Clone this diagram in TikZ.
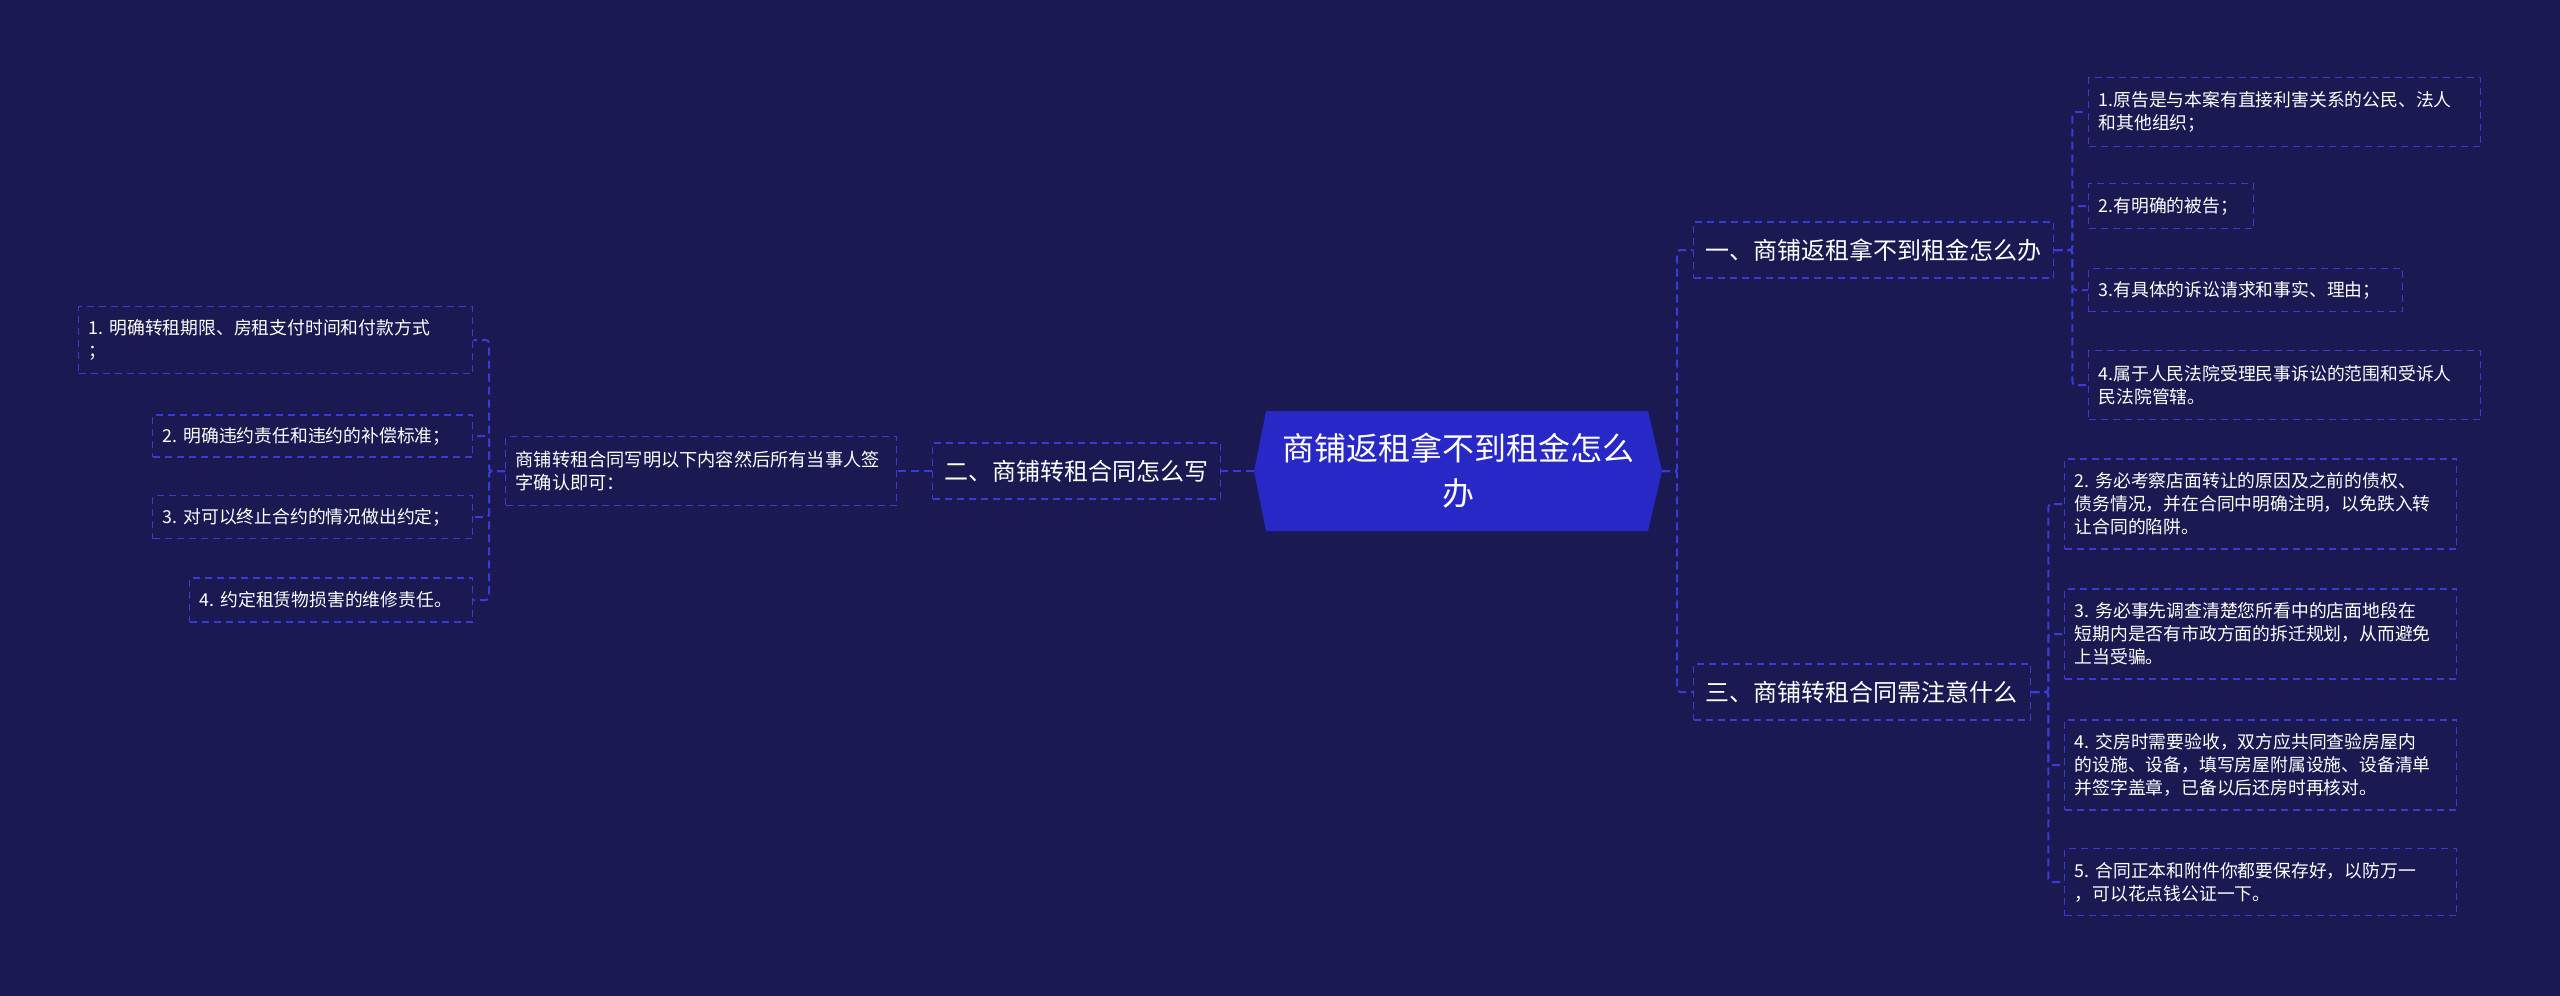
\documentclass[tikz,border=0pt]{standalone}
\usepackage{fontspec}
\setmainfont{Noto Sans CJK SC}
\definecolor{fondo}{HTML}{1A1952}
\definecolor{azullinea}{HTML}{3A3AD6}
\definecolor{azulraiz}{HTML}{2828C6}

\begin{document}
\begin{tikzpicture}[x=1pt,y=-1pt]
  % Estilos
  \tikzset{
    conector/.style={azullinea, line width=2pt, dash pattern=on 8pt off 5pt, rounded corners=3pt},
    caja/.style={draw=azullinea, line width=1.4pt, dash pattern=on 7pt off 5pt, text=white, anchor=west, align=left, inner xsep=10pt, inner ysep=0pt},
    rama/.style={caja, font=\fontsize{24}{30}\selectfont, inner xsep=12pt, minimum height=56pt},
    hoja/.style={caja, font=\fontsize{17.8}{23}\selectfont},
    nodo_raiz/.style={text=white, font=\fontsize{32}{45}\selectfont, align=center, minimum width=408pt, minimum height=120pt, inner sep=0pt}
  }

  % Fondo
  \fill[fondo] (0,0) rectangle (2560,996);

  % Nodo central
  \fill[azulraiz] (1254,471) -- (1266,411) -- (1648,411) -- (1662,471) -- (1648,531) -- (1266,531) -- cycle;
  \node[nodo_raiz] (raiz) at (1458,471) {商铺返租拿不到租金怎么\\办};

  % Ramas
  \node[rama, text width=336pt] (rama1) at (1693,250) {一、商铺返租拿不到租金怎么办};
  \node[rama, text width=313pt] (rama3) at (1693,692) {三、商铺转租合同需注意什么};
  \node[rama, text width=264pt] (rama2) at (932,471) {二、商铺转租合同怎么写};
  \node[hoja, font=\fontsize{18.2}{23}\selectfont, text width=371pt, minimum height=69pt] (sub) at (505,471) {商铺转租合同写明以下内容然后所有当事人签\\字确认即可：};

  % Hojas izquierda
  \node[hoja, text width=374pt, minimum height=67pt] (l1) at (78,340) {1.~明确转租期限、房租支付时间和付款方式\\；};
  \node[hoja, text width=300pt, minimum height=42pt] (l2) at (152,436) {2.~明确违约责任和违约的补偿标准；};
  \node[hoja, text width=300pt, minimum height=43pt] (l3) at (152,517) {3.~对可以终止合约的情况做出约定；};
  \node[hoja, text width=263pt, minimum height=44pt] (l4) at (189,600) {4.~约定租赁物损害的维修责任。};

  % Hojas derecha arriba
  \node[hoja, text width=372pt, minimum height=69pt] (r1) at (2088,112) {1.原告是与本案有直接利害关系的公民、法人\\和其他组织；};
  \node[hoja, text width=145pt, minimum height=45pt] (r2) at (2088,206) {2.有明确的被告；};
  \node[hoja, text width=294pt, minimum height=43pt] (r3) at (2088,290) {3.有具体的诉讼请求和事实、理由；};
  \node[hoja, text width=372pt, minimum height=69pt] (r4) at (2088,385) {4.属于人民法院受理民事诉讼的范围和受诉人\\民法院管辖。};

  % Hojas derecha abajo
  \node[hoja, text width=372pt, minimum height=90pt] (s2) at (2064,504) {2.~务必考察店面转让的原因及之前的债权、\\债务情况，并在合同中明确注明，以免跌入转\\让合同的陷阱。};
  \node[hoja, text width=372pt, minimum height=90pt] (s3) at (2064,634) {3.~务必事先调查清楚您所看中的店面地段在\\短期内是否有市政方面的拆迁规划，从而避免\\上当受骗。};
  \node[hoja, text width=372pt, minimum height=90pt] (s4) at (2064,765) {4.~交房时需要验收，双方应共同查验房屋内\\的设施、设备，填写房屋附属设施、设备清单\\并签字盖章，已备以后还房时再核对。};
  \node[hoja, text width=372pt, minimum height=67pt] (s5) at (2064,882) {5.~合同正本和附件你都要保存好，以防万一\\，可以花点钱公证一下。};

  % Conectores del nodo central
  \draw[conector] (raiz.east) -- ++(15,0) |- (rama1.west);
  \draw[conector] (raiz.east) -- ++(15,0) |- (rama3.west);
  \draw[conector] (raiz.west) -- (rama2.east);
  \draw[conector] (rama2.west) -- (sub.east);

  % Conectores izquierda
  \draw[conector] (sub.west) -- ++(-16,0) |- (l1.east);
  \draw[conector] (sub.west) -- ++(-16,0) |- (l2.east);
  \draw[conector] (sub.west) -- ++(-16,0) |- (l3.east);
  \draw[conector] (sub.west) -- ++(-16,0) |- (l4.east);

  % Conectores derecha
  \draw[conector] (rama1.east) -- ++(18,0) |- (r1.west);
  \draw[conector] (rama1.east) -- ++(18,0) |- (r2.west);
  \draw[conector] (rama1.east) -- ++(18,0) |- (r3.west);
  \draw[conector] (rama1.east) -- ++(18,0) |- (r4.west);
  \draw[conector] (rama3.east) -- ++(17,0) |- (s2.west);
  \draw[conector] (rama3.east) -- ++(17,0) |- (s3.west);
  \draw[conector] (rama3.east) -- ++(17,0) |- (s4.west);
  \draw[conector] (rama3.east) -- ++(17,0) |- (s5.west);
\end{tikzpicture}
\end{document}
